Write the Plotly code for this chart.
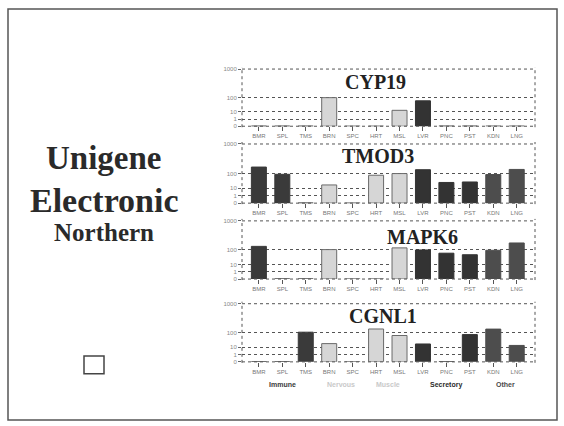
import numpy as np
import plotly.graph_objects as go

W, H = 564, 426

categories = ["BMR", "SPL", "TMS", "BRN", "SPC", "HRT", "MSL", "LVR", "PNC", "PST", "KDN", "LNG"]
groups = ["Immune", "Immune", "Immune", "Nervous", "Nervous", "Muscle", "Muscle",
          "Secretory", "Secretory", "Secretory", "Other", "Other"]
genes = ["CYP19", "TMOD3", "MAPK6", "CGNL1"]

cyp19 = [0, 0, 0, 100, 0, 0, 13, 60, 0, 0, 0, 0]
tmod3 = [166, 89, 0, 17, 0, 77, 100, 135, 25, 27, 86, 138]
mapk6 = [133, 0, 0, 103, 0, 0, 118, 100, 60, 47, 95, 174]
cgnl1 = [0, 0, 105, 18, 0, 135, 65, 17, 0, 75, 134, 13.5]
series = [cyp19, tmod3, mapk6, cgnl1]

ytick_values = [0, 1, 10, 100, 1000]
ytick_labels = ["0", "1", "10", "100", "1000"]

group_names = ["Immune", "Nervous", "Muscle", "Secretory", "Other"]
group_label_colors = ["#3a3a3a", "#c9c9c9", "#c9c9c9", "#2a2a2a", "#4a4a4a"]

fill_colors = {"Immune": "#3a3a3a", "Nervous": "#d6d6d6", "Muscle": "#d6d6d6",
               "Secretory": "#333333", "Other": "#4d4d4d"}
line_colors = {"Immune": "#3a3a3a", "Nervous": "#6a6a6a", "Muscle": "#6a6a6a",
               "Secretory": "#333333", "Other": "#4d4d4d"}


# The original chart uses a compressed axis: 0, 1, 10, 100, 1000 at 0, 1, 2, 4, 8 units
def axis_units(v):
    v = np.asarray(v, dtype=float)
    out = np.where(v < 1, v, np.interp(np.log10(np.maximum(v, 1)), [0, 1, 2, 3], [1, 2, 4, 8]))
    return out


def py(y):
    return 1 - y / H


def px(x):
    return x / W


x_left, x_right = 242, 535
panels_px = [(67, 125), (143, 203), (221, 280), (305, 364)]
title_pos = [(375, 80), (378, 155), (422, 237), (383, 317)]

fig = go.Figure()
shapes = []
annotations = []
xidx = list(range(len(categories)))

for i, (gene, vals) in enumerate(zip(genes, series)):
    n = "" if i == 0 else str(i + 1)
    top, bot = panels_px[i]
    fig.add_trace(go.Bar(
        x=xidx, y=axis_units(vals),
        marker=dict(color=[fill_colors[g] for g in groups],
                    line=dict(color=[line_colors[g] for g in groups], width=1)),
        width=0.64, xaxis="x" + n, yaxis="y" + n, showlegend=False,
    ))
    fig.layout["xaxis" + n] = dict(
        domain=[px(x_left), px(x_right)], anchor="y" + n, range=[-0.72, 11.78],
        tickmode="array", tickvals=xidx, ticktext=categories,
        ticks="outside", ticklen=4, tickcolor="#555", tickwidth=1,
        tickfont=dict(size=6, color="#777", family="Liberation Sans"),
        showgrid=False, zeroline=False, showline=False,
    )
    fig.layout["yaxis" + n] = dict(
        domain=[py(bot), py(top)], anchor="x" + n, range=[0, 8],
        tickmode="array", tickvals=list(axis_units(ytick_values)), ticktext=ytick_labels,
        ticks="outside", ticklen=3, tickcolor="#666",
        tickfont=dict(size=6, color="#888", family="Liberation Sans"),
        showgrid=True, gridcolor="#555", griddash="dot", gridwidth=1,
        zeroline=False, showline=False,
    )
    # dotted frame verticals
    for xx in (x_left, x_right):
        shapes.append(dict(type="line", xref="paper", yref="paper",
                           x0=px(xx), x1=px(xx), y0=py(bot + 1), y1=py(top - 2),
                           line=dict(color="#555", width=1, dash="dot")))
    shapes.append(dict(type="line", xref="paper", yref="paper",
                       x0=px(x_left), x1=px(x_right), y0=py(top), y1=py(top),
                       line=dict(color="#555", width=1, dash="dot")))
    shapes.append(dict(type="line", xref="paper", yref="paper",
                       x0=px(x_left), x1=px(x_right), y0=py(bot), y1=py(bot),
                       line=dict(color="#555", width=1, dash="dot")))
    tx, ty = title_pos[i]
    annotations.append(dict(text="<b>" + gene + "</b>", xref="paper", yref="paper",
                            x=px(tx), y=py(ty), xanchor="center", yanchor="middle",
                            showarrow=False,
                            font=dict(family="Liberation Serif", size=20, color="#222")))

# group labels under the last panel
group_centers = [np.mean([k for k, g in enumerate(groups) if g == name]) for name in group_names]
for name, c, col in zip(group_names, group_centers, group_label_colors):
    annotations.append(dict(text="<b>" + name + "</b>", xref="x4", yref="paper",
                            x=c, y=py(387), xanchor="center", yanchor="middle",
                            showarrow=False,
                            font=dict(family="Liberation Sans", size=7, color=col)))

# left title
for txt, yy, sz in [("Unigene", 157, 33), ("Electronic", 200, 34), ("Northern", 233, 25)]:
    annotations.append(dict(text="<b>" + txt + "</b>", xref="paper", yref="paper",
                            x=px(104), y=py(yy), xanchor="center", yanchor="middle",
                            showarrow=False,
                            font=dict(family="Liberation Serif", size=sz, color="#2a2a2a")))

# outer border and small square
shapes.append(dict(type="rect", xref="paper", yref="paper",
                   x0=px(8), x1=px(557), y0=py(423), y1=py(6),
                   line=dict(color="#555", width=1.5)))
shapes.append(dict(type="rect", xref="paper", yref="paper",
                   x0=px(84), x1=px(104), y0=py(376), y1=py(358),
                   line=dict(color="#444", width=1.5)))

fig.update_layout(width=W, height=H, margin=dict(l=0, r=0, t=0, b=0),
                  paper_bgcolor="white", plot_bgcolor="white",
                  shapes=shapes, annotations=annotations, bargap=0.36)
fig.write_html("out.html", config={"displayModeBar": False},
               post_script="document.body.style.margin='0';document.body.style.overflow='hidden';")
